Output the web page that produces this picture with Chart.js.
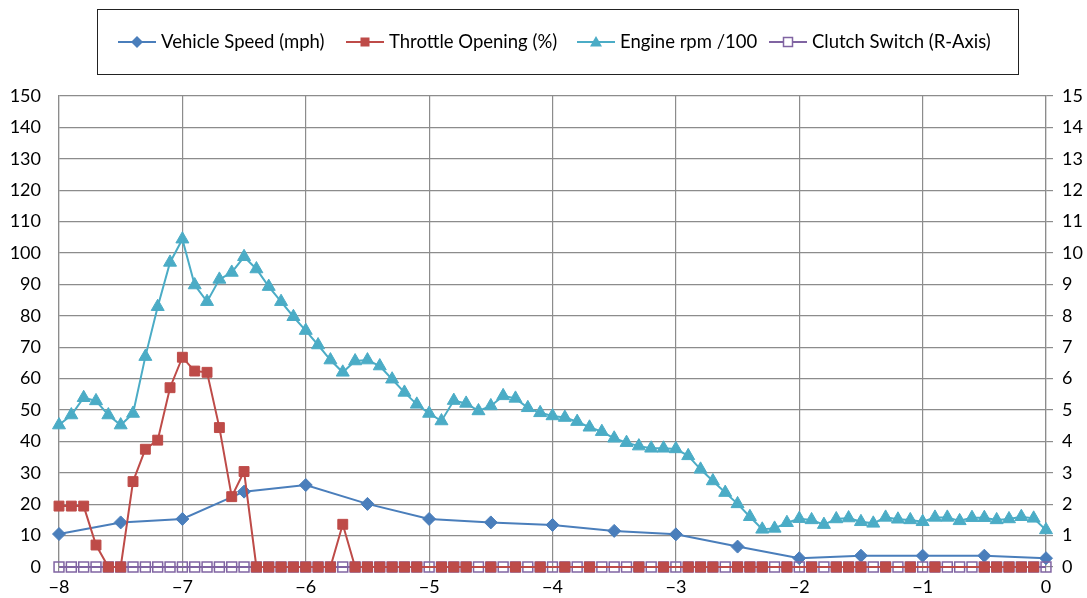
<!DOCTYPE html>
<html>
<head>
<meta charset="utf-8">
<script src="https://cdn.jsdelivr.net/npm/chart.js@4/dist/chart.umd.min.js"></script>
<style>
  html, body { margin: 0; padding: 0; background: #ffffff; }
  #wrap { width: 1087px; height: 598px; position: relative; }
</style>
</head>
<body>
<div id="wrap"><canvas id="c" width="1087" height="598"></canvas></div>
<script>
// ---- Data ----
const sampleTimes = [-8.0,-7.9,-7.8,-7.7,-7.6,-7.5,-7.4,-7.3,-7.2,-7.1,
  -7.0,-6.9,-6.8,-6.7,-6.6,-6.5,-6.4,-6.3,-6.2,-6.1,
  -6.0,-5.9,-5.8,-5.7,-5.6,-5.5,-5.4,-5.3,-5.2,-5.1,
  -5.0,-4.9,-4.8,-4.7,-4.6,-4.5,-4.4,-4.3,-4.2,-4.1,
  -4.0,-3.9,-3.8,-3.7,-3.6,-3.5,-3.4,-3.3,-3.2,-3.1,
  -3.0,-2.9,-2.8,-2.7,-2.6,-2.5,-2.4,-2.3,-2.2,-2.1,
  -2.0,-1.9,-1.8,-1.7,-1.6,-1.5,-1.4,-1.3,-1.2,-1.1,
  -1.0,-0.9,-0.8,-0.7,-0.6,-0.5,-0.4,-0.3,-0.2,-0.1,
  0.0];

const engineRpm100 = [45.2,48.4,53.9,52.9,48.4,45.2,48.9,67.0,82.9,97.0,
  104.4,89.8,84.5,91.6,93.8,98.8,94.9,89.3,84.5,79.7,
  75.3,70.7,65.9,62.0,65.6,65.9,64.0,59.8,55.6,51.8,
  48.9,46.5,53.0,52.1,49.7,51.3,54.5,53.7,50.7,49.1,
  48.1,47.6,46.3,44.5,43.1,41.0,39.6,38.5,37.8,37.8,
  37.6,35.4,31.1,27.4,23.7,20.1,16.0,12.0,12.3,14.1,
  15.4,15.0,13.5,15.3,15.6,14.4,13.9,15.8,15.2,15.0,
  14.4,15.8,15.8,14.7,15.7,15.7,15.0,15.3,16.0,15.5,
  11.8];

const throttleOpening = [19.4,19.4,19.4,7.0,0,0,27.2,37.5,40.4,57.1,
  66.8,62.4,62.0,44.4,22.4,30.4,0,0,0,0,
  0,0,0,13.6,0,0,0,0,0,0,
  null,0,0,0,null,0,null,0,null,0,
  null,0,null,0,null,null,null,0,null,0,
  null,0,0,0,null,0,0,0,null,0,
  null,0,null,0,0,0,null,0,null,0,
  null,0,null,null,null,0,0,0,0,0,
  null];

const clutchSwitch = [0,0,0,0,0,0,0,0,0,0,
  0,0,0,0,0,0,0,0,0,0,
  0,0,0,0,0,0,0,0,0,0,
  0,0,0,0,0,0,0,0,0,0,
  0,0,0,0,0,0,0,0,0,0,
  0,0,0,0,0,0,0,0,0,0,
  0,0,0,0,0,0,0,0,0,0,
  0,0,0,0,0,0,0,0,0,0,
  0];

const speedTimes = [-8.0,-7.5,-7.0,-6.5,-6.0,-5.5,-5.0,-4.5,-4.0,-3.5,-3.0,-2.5,-2.0,-1.5,-1.0,-0.5,0.0];
const vehicleSpeed = [10.5,14.2,15.3,24.0,26.1,20.1,15.3,14.2,13.4,11.5,10.4,6.5,2.8,3.6,3.6,3.6,2.8];

const seriesNames = ['Vehicle Speed (mph)', 'Throttle Opening (%)', 'Engine rpm /100', 'Clutch Switch (R-Axis)'];
const xTickValues = [-8,-7,-6,-5,-4,-3,-2,-1,0];
const xTickLabels = ['\u22128','\u22127','\u22126','\u22125','\u22124','\u22123','\u22122','\u22121','0'];

// ---- Styles ----
const BLUE = '#4a7ebb', RED = '#be4b48', TEAL = '#4bacc6', PURPLE = '#8064a2';
const GRID = '#8c8c8c';
const FONT = 'Lato, "Open Sans", sans-serif';

const toPts = (xs, ys) => xs.map((x, i) => ({ x: x, y: ys[i] }));

const legendPlugin = {
  id: 'boxLegend',
  afterDraw(chart) {
    const ctx = chart.ctx;
    ctx.save();
    ctx.strokeStyle = '#222';
    ctx.lineWidth = 1;
    ctx.strokeRect(97.5, 9.5, 921, 65);
    const starts = [118, 346, 577, 769];
    const cy = 42;
    ctx.font = '18.5px ' + FONT;
    ctx.textBaseline = 'middle';
    chart.data.datasets.forEach((ds, i) => {
      const x0 = starts[i];
      ctx.strokeStyle = ds.borderColor;
      ctx.lineWidth = 2;
      ctx.beginPath(); ctx.moveTo(x0, cy); ctx.lineTo(x0 + 38, cy); ctx.stroke();
      const mx = x0 + 19;
      ctx.beginPath();
      if (ds.pointStyle === 'rectRot') {
        ctx.moveTo(mx, cy - 6); ctx.lineTo(mx + 6, cy); ctx.lineTo(mx, cy + 6); ctx.lineTo(mx - 6, cy); ctx.closePath();
        ctx.fillStyle = ds.pointBackgroundColor; ctx.fill();
      } else if (ds.pointStyle === 'triangle') {
        ctx.moveTo(mx, cy - 6); ctx.lineTo(mx + 6, cy + 4.5); ctx.lineTo(mx - 6, cy + 4.5); ctx.closePath();
        ctx.fillStyle = ds.pointBackgroundColor; ctx.fill();
      } else if (ds.pointBackgroundColor === 'rgba(0,0,0,0)') {
        ctx.fillStyle = '#fff';
        ctx.fillRect(mx - 4.5, cy - 4.5, 9, 9);
        ctx.strokeStyle = ds.pointBorderColor; ctx.lineWidth = 1.5;
        ctx.strokeRect(mx - 4.5, cy - 4.5, 9, 9);
      } else {
        ctx.fillStyle = ds.pointBackgroundColor;
        ctx.fillRect(mx - 4.5, cy - 4.5, 9, 9);
      }
      ctx.fillStyle = '#000';
      ctx.fillText(ds.label, x0 + 43, cy);
    });
    ctx.restore();
  }
};

new Chart(document.getElementById('c'), {
  type: 'line',
  data: {
    datasets: [
      {
        label: seriesNames[0], data: toPts(speedTimes, vehicleSpeed), yAxisID: 'y',
        borderColor: BLUE, backgroundColor: BLUE, pointBackgroundColor: BLUE, pointBorderColor: BLUE,
        pointStyle: 'rectRot', pointRadius: 6.5, borderWidth: 2, pointBorderWidth: 1, order: 3, clip: false
      },
      {
        label: seriesNames[1], data: toPts(sampleTimes, throttleOpening), yAxisID: 'y',
        borderColor: RED, backgroundColor: RED, pointBackgroundColor: RED, pointBorderColor: RED,
        pointStyle: 'rect', pointRadius: 7, borderWidth: 2, pointBorderWidth: 1, spanGaps: true, order: 0, clip: false
      },
      {
        label: seriesNames[2], data: toPts(sampleTimes, engineRpm100), yAxisID: 'y',
        borderColor: TEAL, backgroundColor: TEAL, pointBackgroundColor: TEAL, pointBorderColor: TEAL,
        pointStyle: 'triangle', pointRadius: 7.5, borderWidth: 2, pointBorderWidth: 1, order: 2, clip: false
      },
      {
        label: seriesNames[3], data: toPts(sampleTimes, clutchSwitch), yAxisID: 'y1',
        borderColor: PURPLE, backgroundColor: 'rgba(0,0,0,0)', pointBackgroundColor: 'rgba(0,0,0,0)', pointBorderColor: PURPLE,
        pointStyle: 'rect', pointRadius: 7, borderWidth: 2, pointBorderWidth: 1.5, order: 1, clip: false
      }
    ]
  },
  options: {
    responsive: false,
    animation: false,
    devicePixelRatio: 1,
    layout: { padding: { top: 96, left: 0, right: 0, bottom: 0 } },
    elements: { line: { tension: 0 } },
    plugins: { legend: { display: false }, tooltip: { enabled: false } },
    scales: {
      x: {
        type: 'linear', min: -8, max: 0,
        afterFit(s) { s.height = 31; },
        afterBuildTicks(s) { s.ticks = xTickValues.map(v => ({ value: v })); },
        ticks: {
          callback: (v) => { const i = xTickValues.indexOf(v); return i >= 0 ? xTickLabels[i] : ''; },
          font: { family: FONT, size: 18 }, color: '#000', padding: 4, maxRotation: 0
        },
        grid: { color: GRID, lineWidth: 1.2, drawTicks: true, tickLength: 5 },
        border: { color: GRID, width: 1.2 }
      },
      y: {
        position: 'left', min: 0, max: 150,
        afterFit(s) { s.width = 59; },
        ticks: { stepSize: 10, font: { family: FONT, size: 18 }, color: '#000', padding: 18 },
        grid: { color: GRID, lineWidth: 1.2, drawTicks: false },
        border: { color: GRID, width: 1.2 }
      },
      y1: {
        position: 'right', min: 0, max: 15,
        afterFit(s) { s.width = 41; },
        ticks: { stepSize: 1, font: { family: FONT, size: 18 }, color: '#000', padding: 9 },
        grid: { drawOnChartArea: false, color: GRID, lineWidth: 1.2, drawTicks: true, tickLength: 7 },
        border: { color: GRID, width: 1.2 }
      }
    }
  },
  plugins: [legendPlugin]
});
</script>
</body>
</html>
